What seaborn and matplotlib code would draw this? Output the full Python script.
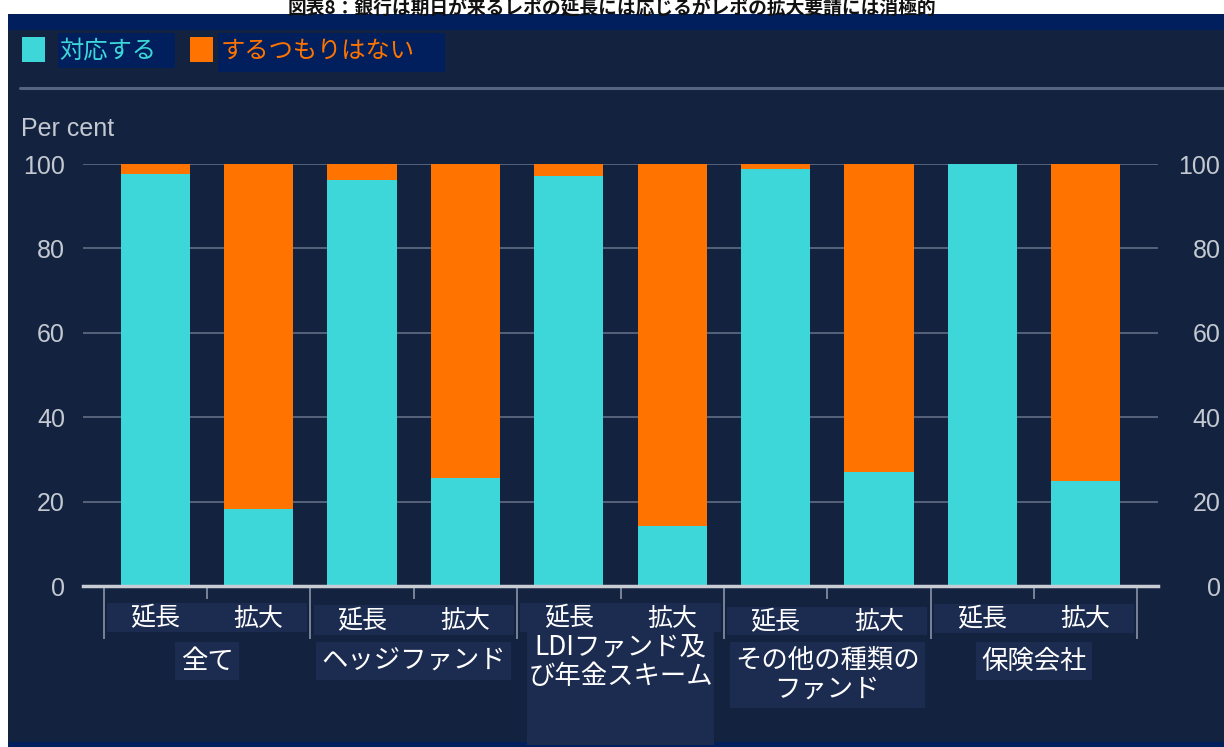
import matplotlib
matplotlib.use("Agg")
import matplotlib.pyplot as plt
import matplotlib.transforms as mtransforms
from matplotlib.patches import Rectangle
import seaborn as sns
import pandas as pd
import numpy as np

# ---------------- data ----------------
title = "図表8：銀行は期日が来るレポの延長には応じるがレポの拡大要請には消極的"
groups = ["全て", "ヘッジファンド", "LDIファンド及\nび年金スキーム", "その他の種類の\nファンド", "保険会社"]
types = ["延長", "拡大"]
series_names = ["対応する", "するつもりはない"]
respond = [97.6, 18.2, 96.2, 25.6, 97.2, 14.2, 98.8, 27.0, 100.0, 24.9]
not_respond = [2.4, 81.8, 3.8, 74.4, 2.8, 85.8, 1.2, 73.0, 0.0, 75.1]
yticks = [0, 20, 40, 60, 80, 100]
y_label = "Per cent"

# ---------------- style ----------------
CYAN = "#3dd7d9"
ORANGE = "#ff7300"
PANEL = "#13233f"
NAVY = "#001f5c"
LABELBOX = "#1c2b50"
TICKTXT = "#c3c8d1"

sns.set_style("white")
plt.rcParams['font.family'] = ['Noto Sans CJK JP', 'DejaVu Sans']

W, H = 1224, 747
fig = plt.figure(figsize=(W / 100, H / 100), dpi=100)
fig.patch.set_facecolor("white")

def fx(x):
    return x / W

def fy(y):
    return 1 - y / H

def frect(x0, y0, x1, y1, color, z=-5):
    fig.add_artist(Rectangle((fx(x0), fy(y1)), fx(x1) - fx(x0), fy(y0) - fy(y1),
                             transform=fig.transFigure, facecolor=color,
                             edgecolor="none", zorder=z))

# background panel and bands
frect(8, 30, W, H, PANEL)
frect(8, 14, W, 30, NAVY)
frect(8, 742, W, H, NAVY, z=-4)
fig.add_artist(plt.Line2D([fx(20), fx(W)], [fy(88), fy(88)], transform=fig.transFigure,
                          color="#55647f", lw=2.2, zorder=-3))

# title
fig.text(0.5, fy(7.5), title, ha="center", va="center", fontsize=13.5,
         fontweight="bold", color="#111111", zorder=10)

# legend
frect(22, 37, 45, 62, CYAN, z=1)
frect(58, 33, 175, 68, NAVY, z=1)
fig.text(fx(59), fy(51), series_names[0], ha="left", va="center", fontsize=17.5, color=CYAN)
frect(190, 37, 213, 62, ORANGE, z=1)
frect(218, 33, 445, 72, NAVY, z=1)
fig.text(fx(221), fy(51), series_names[1], ha="left", va="center", fontsize=17.5, color=ORANGE)

# ---------------- axes ----------------
ax = fig.add_axes([fx(83), fy(586), fx(1158) - fx(83), fy(164) - fy(586)])
ax.set_facecolor("none")

keys = [f"{g}|{t}" for g in groups for t in types]
totals = [r + n for r, n in zip(respond, not_respond)]
df = pd.DataFrame({"key": keys, "respond": respond, "total": totals})

sns.barplot(data=df, x="key", y="total", order=keys, color=ORANGE, saturation=1,
            width=0.67, linewidth=0, ax=ax, zorder=3)
sns.barplot(data=df, x="key", y="respond", order=keys, color=CYAN, saturation=1,
            width=0.67, linewidth=0, ax=ax, zorder=4)

n = len(keys)
ax.set_xlim(-0.7, n - 1 + 0.7)
ax.set_ylim(0, 100)
ax.set_xlabel("")
ax.set_ylabel("")

# y axis (left)
ax.set_yticks(yticks)
ax.set_yticklabels([str(v) for v in yticks], family="Liberation Sans", fontsize=18, color=TICKTXT)
ax.tick_params(axis="y", length=0, pad=13, left=False)
for y in yticks[1:]:
    ax.axhline(y, color="#56627a", lw=1.4, zorder=1)

# y axis (right, right-aligned labels)
ax2 = ax.twinx()
ax2.set_ylim(ax.get_ylim())
ax2.set_yticks(yticks)
ax2.set_yticklabels([str(v) for v in yticks], family="Liberation Sans", fontsize=18,
                    color=TICKTXT, ha="right")
ax2.tick_params(axis="y", length=0, pad=45, right=False)
for s in ax2.spines.values():
    s.set_visible(False)

for s in ["top", "left", "right"]:
    ax.spines[s].set_visible(False)
ax.spines["bottom"].set_color("#c8ccd4")
ax.spines["bottom"].set_linewidth(2.5)
ax.spines["bottom"].set_zorder(5)

# x ticks: group separators (long) and bar separators (short)
major = [i - 0.5 for i in range(0, n + 1, 2)]
minor = [i - 0.5 for i in range(1, n, 2)]
ax.set_xticks(major)
ax.set_xticklabels([""] * len(major))
ax.set_xticks(minor, minor=True)
ax.tick_params(axis="x", which="major", length=38, width=1.2, color="#8a93a6", bottom=True)
ax.tick_params(axis="x", which="minor", length=9, width=1.2, color="#8a93a6", bottom=True)

fig.text(fx(21), fy(129), y_label, ha="left", va="center", fontsize=18,
         family="Liberation Sans", color=TICKTXT)

# category labels
blend = mtransforms.blended_transform_factory(ax.transData, fig.transFigure)
bar_box_y = [(603, 632), (605, 635), (603, 632), (607, 635), (604, 633)]
group_y = [661, 661, 662, 675, 661]
for gi, g in enumerate(groups):
    c0, c1 = 2 * gi, 2 * gi + 1
    y0, y1 = bar_box_y[gi]
    ax.add_patch(Rectangle((c0 - 0.47, fy(y1)), 1.94, fy(y0) - fy(y1), transform=blend,
                           facecolor=LABELBOX, edgecolor="none", clip_on=False, zorder=2))
    if gi == 2:
        ax.add_patch(Rectangle((c0 - 0.4, fy(745)), 1.8, fy(y1 - 4) - fy(745), transform=blend,
                               facecolor=LABELBOX, edgecolor="none", clip_on=False, zorder=2))
    for ci, t in zip((c0, c1), types):
        ax.text(ci, fy((y0 + y1) / 2 + 1), t, transform=blend, ha="center", va="center",
                fontsize=18, color="white", zorder=6, clip_on=False)
    bbox = None if gi == 2 else dict(boxstyle="square,pad=0.2", facecolor=LABELBOX, edgecolor="none")
    ax.text((c0 + c1) / 2, fy(group_y[gi]), g, transform=blend, ha="center", va="center",
            fontsize=19, color="white", linespacing=1.1, zorder=6, clip_on=False, bbox=bbox)

fig.savefig("out.png", dpi=100, facecolor=fig.get_facecolor())
